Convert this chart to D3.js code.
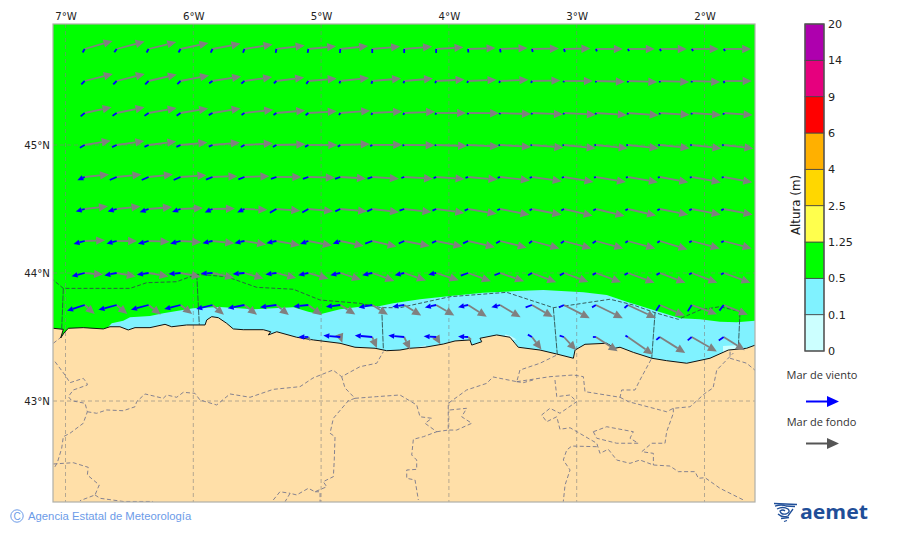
<!DOCTYPE html>
<html>
<head>
<meta charset="utf-8">
<script src="https://cdn.jsdelivr.net/npm/d3@7"></script>
<style>
    html, body { margin: 0; padding: 0; background: #fff; }
    text { font-family: "DejaVu Sans", sans-serif; }
</style>
</head>
<body>
<div id="chart"></div>
<script>

// Map ticks

var lonTicks = [ -7, -6, -5, -4, -3, -2 ];
var latTicks = [ 45, 44, 43 ];

// Arrow grid

var gridLons = [ -6.85, -6.6, -6.35, -6.1, -5.85, -5.6, -5.35, -5.1, -4.85, -4.6, -4.35, -4.1, -3.85, -3.6, -3.35, -3.1, -2.85, -2.6, -2.35, -2.1, -1.85 ];
var gridLats = [ 45.75, 45.5, 45.25, 45, 44.75, 44.5, 44.25, 44, 43.75, 43.5 ];

// Mar de fondo: heading in degrees from north, height in metres

var swellDir = [
    [ 74, 75, 76, 78, 79, 81, 83, 84.5, 84, 85, 85, 86.5, 88, 88, 89, 89, 90, 90, 90, 90, 90 ],
    [ 76, 76, 77, 79, 81, 82, 83, 85, 84, 85, 85, 87, 87.5, 87.5, 89, 90, 91.5, 92, 92, 92, 90 ],
    [ 78, 78.5, 80, 80.5, 81, 83.5, 85, 86.5, 85.5, 87, 87.5, 90, 90.5, 92, 92.5, 93, 93.5, 94, 93.5, 94, 94 ],
    [ 80.5, 82, 83, 84.5, 85, 86.5, 88.5, 90, 88, 89.5, 90.5, 92, 93, 93.7, 95, 96, 96, 96, 96, 96.5, 96.5 ],
    [ 84, 84, 84, 86, 88, 88, 90, 91.5, 93.5, 93.5, 93.5, 94, 95, 96.5, 98, 99.5, 99.5, 100, 100.5, 100.5, 100.5 ],
    [ 83.5, 84, 85, 87.5, 89, 92, 94, 95, 95, 97, 96.5, 98, 99.5, 101, 101, 103, 103.5, 103, 101.5, 101, 101 ],
    [ 88, 90, 92, 93.5, 96, 99, 100, 101, 102, 103, 101, 102, 103, 104, 105, 105, 105, 105, 107, 105, 105 ],
    [ 95, 100, 100, 101, 103, 106, 104, 106, 108, 110, 109, 108, 110, 109, 111, 110, 110, 110, 111, 111, 110 ],
    [ 132, 130, 128, 128, 130, 128, 129, 127, 122, 122, 122, 120, 122, 121, 120, 117, 116, 115, 113, 110, 112 ],
    [ null, null, null, null, null, null, null, 150, 160, 157, 155, 150, 130, null, 143, 137, 123, 125, 122, 120, 122 ]
];
var swellHeight = [
    [ 1.16, 1.16, 1.14, 1.14, 1.14, 1.14, 1.14, 1.12, 1.12, 1.12, 1.12, 1.10, 1.10, 1.10, 1.08, 1.06, 1.08, 1.08, 1.08, 1.08, 1.10 ],
    [ 1.16, 1.16, 1.16, 1.16, 1.16, 1.12, 1.12, 1.14, 1.16, 1.16, 1.16, 1.14, 1.14, 1.14, 1.14, 1.16, 1.16, 1.18, 1.18, 1.14, 1.12 ],
    [ 1.10, 1.14, 1.14, 1.12, 1.14, 1.16, 1.16, 1.14, 1.20, 1.20, 1.24, 1.20, 1.24, 1.24, 1.24, 1.28, 1.24, 1.24, 1.20, 1.18, 1.16 ],
    [ 1.06, 1.12, 1.12, 1.08, 1.10, 1.14, 1.16, 1.16, 1.18, 1.20, 1.22, 1.24, 1.24, 1.24, 1.26, 1.28, 1.28, 1.24, 1.20, 1.20, 1.20 ],
    [ 0.98, 1.00, 0.98, 1.04, 1.00, 1.00, 1.00, 1.06, 1.03, 1.07, 1.16, 1.14, 1.18, 1.20, 1.20, 1.20, 1.22, 1.22, 1.16, 1.18, 1.16 ],
    [ 0.94, 0.96, 0.94, 0.90, 0.90, 0.92, 0.96, 1.00, 1.08, 1.08, 1.10, 1.14, 1.16, 1.20, 1.20, 1.18, 1.18, 1.16, 1.16, 1.18, 1.18 ],
    [ 0.82, 0.82, 0.84, 0.83, 0.88, 0.88, 0.96, 0.96, 0.96, 1.00, 1.04, 1.08, 1.10, 1.10, 1.14, 1.14, 1.14, 1.14, 1.16, 1.16, 1.16 ],
    [ 0.74, 0.78, 0.81, 0.82, 0.89, 0.80, 0.82, 0.84, 0.87, 0.94, 0.92, 0.95, 0.97, 1.02, 1.04, 1.04, 1.07, 1.14, 1.10, 1.10, 1.14 ],
    [ 0.54, 0.56, 0.62, 0.59, 0.60, 0.64, 0.64, 0.68, 0.71, 0.74, 0.80, 0.84, 0.88, 0.96, 0.96, 1.16, 1.20, 1.24, 1.08, 1.08, 1.04 ],
    [ null, null, null, null, null, null, null, 0.16, 0.24, 0.48, 0.56, 0.34, 0.16, null, 0.63, 0.72, 1.04, 1.22, 1.20, 1.16, 1.00 ]
];

// Mar de viento: heading in degrees from north, height in metres

var windDir = [
    [ 210, 215, 210, 210, 205, 200, 190, 190, 185, 180, 180, 180, 175, 170, 165, 160, 155, 150, 150, 145, 145 ],
    [ 225, 225, 225, 225, 235, 230, 225, 215, 200, 195, 195, 205, 205, 205, 205, 200, 180, 180, 180, 180, 160 ],
    [ 230, 235, 235, 235, 240, 235, 235, 230, 210, 205, 205, 205, 200, 200, 195, 195, 190, 190, 190, 190, 185 ],
    [ 240, 245, 245, 245, 245, 240, 240, 240, 235, 240, 250, 250, 255, 255, 255, 255, 260, 260, 260, 260, 260 ],
    [ 246, 246, 246, 246, 248, 248, 250, 250, 250, 250, 250, 245, 250, 250, 250, 250, 250, 255, 255, 255, 255 ],
    [ 255, 255, 250, 250, 245, 245, 240, 240, 245, 245, 250, 245, 245, 245, 240, 240, 240, 240, 240, 240, 240 ],
    [ 255, 255, 255, 255, 257, 257, 257, 250, 250, 250, 245, 245, 245, 240, 230, 235, 235, 235, 235, 240, 240 ],
    [ 256, 259, 262, 265, 267, 265, 262, 257, 257, 257, 257, 258, 250, 248, 240, 240, 240, 240, 240, 240, 240 ],
    [ 252, 255, 255, 256, 256, 259, 262, 264, 263, 260, 262, 258, 257, 255, 250, 245, 238, 228, 213, 212, 217 ],
    [ null, null, null, null, null, null, null, 270, 275, 275, 275, 273, 273, null, 300, 287, 270, 300, 230, 230, 235 ]
];
var windHeight = [
    [ 0.16, 0.16, 0.16, 0.16, 0.16, 0.16, 0.16, 0.16, 0.16, 0.16, 0.16, 0.16, 0.14, 0.14, 0.12, 0.12, 0.10, 0.10, 0.10, 0.10, 0.10 ],
    [ 0.19, 0.19, 0.19, 0.18, 0.16, 0.16, 0.14, 0.14, 0.10, 0.11, 0.09, 0.09, 0.08, 0.08, 0.08, 0.06, 0.06, 0.06, 0.06, 0.06, 0.09 ],
    [ 0.21, 0.20, 0.20, 0.19, 0.17, 0.14, 0.14, 0.14, 0.10, 0.08, 0.08, 0.07, 0.06, 0.06, 0.06, 0.06, 0.06, 0.06, 0.06, 0.06, 0.07 ],
    [ 0.22, 0.20, 0.18, 0.18, 0.16, 0.16, 0.16, 0.15, 0.12, 0.09, 0.07, 0.06, 0.06, 0.06, 0.06, 0.06, 0.06, 0.06, 0.06, 0.06, 0.06 ],
    [ 0.32, 0.30, 0.30, 0.30, 0.28, 0.26, 0.23, 0.23, 0.22, 0.20, 0.12, 0.11, 0.11, 0.10, 0.10, 0.09, 0.08, 0.08, 0.08, 0.08, 0.08 ],
    [ 0.37, 0.37, 0.38, 0.36, 0.34, 0.32, 0.30, 0.28, 0.22, 0.22, 0.20, 0.16, 0.15, 0.12, 0.11, 0.12, 0.12, 0.11, 0.11, 0.11, 0.11 ],
    [ 0.46, 0.42, 0.44, 0.43, 0.41, 0.41, 0.41, 0.35, 0.32, 0.30, 0.24, 0.18, 0.22, 0.18, 0.15, 0.15, 0.16, 0.12, 0.12, 0.11, 0.11 ],
    [ 0.54, 0.50, 0.47, 0.48, 0.47, 0.47, 0.44, 0.41, 0.41, 0.41, 0.39, 0.32, 0.31, 0.24, 0.18, 0.19, 0.15, 0.15, 0.15, 0.12, 0.12 ],
    [ 0.74, 0.75, 0.73, 0.67, 0.67, 0.68, 0.66, 0.60, 0.58, 0.56, 0.48, 0.46, 0.41, 0.36, 0.27, 0.22, 0.18, 0.18, 0.27, 0.30, 0.28 ],
    [ null, null, null, null, null, null, null, 0.40, 0.68, 0.70, 0.64, 0.50, 0.40, null, 0.19, 0.18, 0.12, 0.11, 0.18, 0.21, 0.24 ]
];

// Colour bar

var barLevels = [ '0', '0.1', '0.5', '1.25', '2.5', '4', '6', '9', '14', '20' ];
var barColors = [ '#ccffff', '#80f2ff', '#00ff00', '#ffff4d', '#ffd700', '#ffb000', '#ff0000', '#e6007e', '#ae00ae' ];

// Coastline and the edge of the 0.1-0.5 m band, lon / lat

var coastLine = [
    [ -7.2, 43.568 ], [ -7.095, 43.568 ], [ -7.017, 43.560 ], [ -7.038, 43.492 ], [ -7.012, 43.531 ], [ -6.978, 43.568 ],
    [ -6.861, 43.573 ], [ -6.704, 43.563 ], [ -6.652, 43.580 ], [ -6.574, 43.580 ], [ -6.509, 43.555 ], [ -6.456, 43.573 ],
    [ -6.339, 43.573 ], [ -6.221, 43.599 ], [ -6.169, 43.580 ], [ -6.052, 43.594 ], [ -5.908, 43.594 ], [ -5.895, 43.633 ],
    [ -5.856, 43.659 ], [ -5.804, 43.651 ], [ -5.739, 43.607 ], [ -5.687, 43.563 ], [ -5.609, 43.557 ], [ -5.452, 43.557 ],
    [ -5.394, 43.541 ], [ -5.413, 43.516 ], [ -5.347, 43.541 ], [ -5.191, 43.498 ], [ -5.061, 43.477 ], [ -4.852, 43.451 ],
    [ -4.735, 43.420 ], [ -4.578, 43.412 ], [ -4.487, 43.393 ], [ -4.383, 43.398 ], [ -4.304, 43.412 ], [ -4.187, 43.420 ],
    [ -4.044, 43.445 ], [ -3.952, 43.469 ], [ -3.835, 43.477 ], [ -3.821, 43.437 ], [ -3.743, 43.463 ], [ -3.757, 43.490 ],
    [ -3.626, 43.516 ], [ -3.522, 43.498 ], [ -3.483, 43.451 ], [ -3.457, 43.420 ], [ -3.287, 43.398 ], [ -3.156, 43.367 ],
    [ -3.026, 43.334 ], [ -3.013, 43.398 ], [ -2.935, 43.443 ], [ -2.765, 43.451 ], [ -2.700, 43.412 ], [ -2.661, 43.420 ],
    [ -2.557, 43.380 ], [ -2.413, 43.334 ], [ -2.296, 43.315 ], [ -2.139, 43.295 ], [ -1.957, 43.334 ], [ -1.814, 43.398 ],
    [ -1.670, 43.412 ], [ -1.581, 43.445 ]
];
var bandEdge = [
    [ -6.665, 43.580 ], [ -6.638, 43.607 ], [ -6.548, 43.627 ], [ -6.495, 43.654 ], [ -6.339, 43.664 ], [ -6.235, 43.685 ],
    [ -6.130, 43.703 ], [ -6.000, 43.724 ], [ -5.791, 43.734 ], [ -5.530, 43.716 ], [ -5.217, 43.732 ], [ -5.100, 43.698 ],
    [ -5.008, 43.677 ], [ -4.852, 43.716 ], [ -4.696, 43.737 ], [ -4.539, 43.742 ], [ -4.435, 43.763 ], [ -4.226, 43.795 ],
    [ -3.991, 43.820 ], [ -3.731, 43.846 ], [ -3.469, 43.859 ], [ -3.261, 43.867 ], [ -2.948, 43.849 ], [ -2.765, 43.828 ],
    [ -2.609, 43.776 ], [ -2.400, 43.711 ], [ -2.191, 43.646 ], [ -2.035, 43.638 ], [ -1.879, 43.620 ], [ -1.748, 43.615 ],
    [ -1.581, 43.629 ]
];

// Small coastal patches under 0.1 m, lon / lat

var calmPatches = [
    [ [ -4.270, 43.415 ], [ -4.180, 43.435 ], [ -4.180, 43.390 ], [ -4.270, 43.390 ] ],
    [ [ -3.560, 43.520 ], [ -3.520, 43.510 ], [ -3.470, 43.480 ], [ -3.560, 43.470 ] ],
    [ [ -1.855, 43.430 ], [ -1.750, 43.435 ], [ -1.750, 43.380 ], [ -1.855, 43.380 ] ]
];

// Forecast zone limits at sea, lon / lat

var seaZones = [
    [ [ -7.160, 43.969 ], [ -7.095, 43.945 ], [ -7.017, 43.880 ], [ -6.495, 43.880 ], [ -6.365, 43.924 ], [ -6.130, 43.932 ], [ -5.973, 43.990 ],
      [ -5.739, 43.971 ], [ -5.504, 43.888 ], [ -5.217, 43.873 ], [ -5.008, 43.789 ], [ -4.696, 43.763 ], [ -4.526, 43.729 ], [ -4.383, 43.729 ],
      [ -3.991, 43.815 ], [ -3.548, 43.849 ], [ -3.183, 43.729 ], [ -2.739, 43.795 ], [ -2.557, 43.750 ], [ -2.387, 43.690 ], [ -2.205, 43.638 ],
      [ -2.035, 43.711 ], [ -1.879, 43.737 ], [ -1.722, 43.698 ] ],
    [ [ -7.017, 43.880 ], [ -7.030, 43.555 ] ],
    [ [ -5.973, 43.990 ], [ -5.953, 43.594 ] ],
    [ [ -4.526, 43.729 ], [ -4.513, 43.412 ] ],
    [ [ -3.183, 43.729 ], [ -3.152, 43.367 ] ],
    [ [ -2.387, 43.690 ], [ -2.413, 43.334 ] ],
    [ [ -1.722, 43.698 ], [ -1.735, 43.420 ] ]
];

// Provinces on land, lon / lat

var landBorders = [
    [ [ -7.095, 43.451 ], [ -7.043, 43.492 ] ],
    [ [ -7.082, 43.307 ], [ -7.004, 43.203 ], [ -6.965, 43.143 ], [ -6.861, 43.177 ], [ -6.834, 43.143 ], [ -6.829, 43.125 ], [ -6.939, 43.086 ],
      [ -6.978, 43.034 ], [ -6.951, 43.002 ], [ -6.847, 42.982 ], [ -6.829, 42.916 ], [ -6.861, 42.826 ], [ -6.965, 42.748 ], [ -7.017, 42.721 ],
      [ -7.030, 42.630 ], [ -7.064, 42.518 ], [ -7.090, 42.474 ] ],
    [ [ -7.095, 42.508 ], [ -6.939, 42.518 ], [ -6.822, 42.482 ], [ -6.829, 42.422 ], [ -6.736, 42.344 ], [ -6.769, 42.266 ], [ -6.887, 42.221 ] ],
    [ [ -6.769, 42.266 ], [ -6.730, 42.240 ], [ -6.548, 42.215 ], [ -6.315, 42.215 ] ],
    [ [ -6.829, 42.916 ], [ -6.756, 42.904 ], [ -6.678, 42.930 ], [ -6.548, 42.924 ], [ -6.456, 42.955 ], [ -6.443, 42.995 ], [ -6.378, 43.055 ],
      [ -6.235, 43.021 ], [ -6.208, 43.047 ], [ -6.130, 43.029 ], [ -6.078, 43.068 ], [ -5.987, 43.060 ], [ -5.948, 43.008 ], [ -5.817, 42.969 ],
      [ -5.713, 43.055 ], [ -5.556, 43.029 ], [ -5.374, 43.091 ], [ -5.165, 43.112 ], [ -5.063, 43.180 ], [ -4.907, 43.242 ], [ -4.839, 43.190 ],
      [ -4.696, 43.268 ], [ -4.565, 43.295 ], [ -4.513, 43.385 ] ],
    [ [ -4.839, 43.190 ], [ -4.813, 43.102 ], [ -4.735, 43.021 ], [ -4.787, 43.002 ], [ -4.904, 42.865 ], [ -4.930, 42.748 ], [ -4.891, 42.721 ],
      [ -4.897, 42.539 ], [ -4.904, 42.409 ], [ -4.983, 42.370 ], [ -4.956, 42.330 ], [ -5.048, 42.291 ], [ -5.100, 42.318 ], [ -5.191, 42.266 ],
      [ -5.243, 42.279 ], [ -5.282, 42.213 ] ],
    [ [ -5.374, 42.227 ], [ -5.322, 42.291 ], [ -5.243, 42.279 ] ],
    [ [ -5.048, 42.291 ], [ -5.008, 42.291 ], [ -5.008, 42.205 ] ],
    [ [ -4.735, 43.021 ], [ -4.565, 43.034 ], [ -4.383, 43.047 ], [ -4.252, 42.969 ], [ -4.226, 42.877 ], [ -4.134, 42.865 ], [ -4.187, 42.826 ],
      [ -4.095, 42.760 ], [ -4.200, 42.721 ], [ -4.278, 42.701 ], [ -4.291, 42.578 ], [ -4.252, 42.539 ], [ -4.252, 42.466 ], [ -4.330, 42.461 ],
      [ -4.330, 42.396 ], [ -4.265, 42.383 ], [ -4.239, 42.227 ] ],
    [ [ -4.095, 42.760 ], [ -4.005, 42.773 ], [ -4.005, 42.838 ], [ -4.005, 42.982 ], [ -3.861, 43.086 ], [ -3.704, 43.138 ], [ -3.655, 43.188 ],
      [ -3.469, 43.151 ], [ -3.444, 43.242 ], [ -3.287, 43.295 ], [ -3.156, 43.359 ] ],
    [ [ -3.469, 43.151 ], [ -3.209, 43.190 ], [ -3.026, 43.203 ], [ -2.948, 43.190 ], [ -2.935, 43.073 ], [ -2.661, 43.029 ], [ -2.648, 43.086 ],
      [ -2.544, 43.086 ], [ -2.505, 43.164 ], [ -2.413, 43.334 ] ],
    [ [ -3.469, 43.151 ], [ -3.418, 43.143 ], [ -3.342, 43.164 ] ],
    [ [ -3.170, 43.164 ], [ -3.156, 43.034 ], [ -3.052, 43.047 ], [ -3.000, 42.995 ], [ -3.131, 42.904 ], [ -3.209, 42.943 ], [ -3.274, 42.891 ],
      [ -3.235, 42.838 ], [ -3.156, 42.877 ], [ -3.131, 42.779 ], [ -3.052, 42.791 ], [ -2.843, 42.670 ], [ -2.818, 42.591 ], [ -2.753, 42.623 ],
      [ -2.687, 42.539 ], [ -2.583, 42.513 ], [ -2.505, 42.539 ], [ -2.400, 42.500 ], [ -2.270, 42.492 ], [ -2.205, 42.448 ], [ -2.074, 42.448 ],
      [ -2.048, 42.396 ], [ -1.996, 42.401 ], [ -1.879, 42.318 ], [ -1.696, 42.227 ] ],
    [ [ -2.843, 42.643 ], [ -3.039, 42.648 ], [ -3.078, 42.617 ], [ -3.105, 42.539 ], [ -3.052, 42.461 ], [ -3.091, 42.344 ], [ -3.105, 42.213 ] ],
    [ [ -2.870, 42.760 ], [ -2.765, 42.799 ], [ -2.557, 42.760 ], [ -2.583, 42.709 ], [ -2.518, 42.670 ], [ -2.687, 42.670 ], [ -2.843, 42.709 ], [ -2.870, 42.760 ] ],
    [ [ -2.661, 43.029 ], [ -2.596, 42.995 ], [ -2.296, 42.916 ], [ -2.244, 42.943 ], [ -2.113, 42.955 ], [ -1.996, 43.060 ], [ -1.933, 43.102 ], [ -1.904, 43.242 ], [ -1.774, 43.375 ] ],
    [ [ -2.244, 42.943 ], [ -2.244, 42.904 ], [ -2.296, 42.760 ], [ -2.309, 42.670 ], [ -2.413, 42.670 ], [ -2.491, 42.604 ], [ -2.400, 42.591 ], [ -2.400, 42.500 ] ],
    [ [ -3.991, 42.930 ], [ -3.861, 42.943 ], [ -3.900, 42.877 ], [ -3.821, 42.826 ], [ -3.939, 42.773 ], [ -4.005, 42.773 ] ],
    [ [ -1.800, 43.385 ], [ -1.800, 43.334 ], [ -1.670, 43.295 ], [ -1.589, 43.227 ] ]
];

var width = 900;
var height = 533;

var svg = d3.select( '#chart' ).append( 'svg' )
    .attr( 'width', width )
    .attr( 'height', height )
    .style( 'display', 'block' );

// Map scales

var frame = { left: 53, right: 755, top: 24, bottom: 502 };

var x = d3.scaleLinear().domain( [ -7, -2 ] ).range( [ 65.5, 704.5 ] );
var y = d3.scaleLinear().domain( [ 45, 43 ] ).range( [ 145, 401 ] );

var arrowLength = d3.scaleLinear().domain( [ 0, 1 ] ).range( [ 0, 25 ] );

var line = d3.line()
    .x( function ( d ) { return x( d[0] ); } )
    .y( function ( d ) { return y( d[1] ); } );

svg.append( 'clipPath' )
    .attr( 'id', 'frame-clip' )
    .append( 'rect' )
    .attr( 'x', frame.left )
    .attr( 'y', frame.top )
    .attr( 'width', frame.right - frame.left )
    .attr( 'height', frame.bottom - frame.top );

var map = svg.append( 'g' ).attr( 'clip-path', 'url(#frame-clip)' );

// Sea and land areas

var mapBottom = y.invert( frame.bottom + 5 );

map.append( 'rect' )
    .attr( 'x', frame.left )
    .attr( 'y', frame.top )
    .attr( 'width', frame.right - frame.left )
    .attr( 'height', frame.bottom - frame.top )
    .attr( 'fill', '#00ff00' );

map.append( 'path' )
    .attr( 'd', line( bandEdge.concat( [ [ bandEdge[ bandEdge.length - 1 ][0], mapBottom ], [ bandEdge[0][0], mapBottom ] ] ) ) + 'Z' )
    .attr( 'fill', barColors[1] );

map.selectAll( '.calm' ).data( calmPatches ).enter().append( 'path' )
    .attr( 'd', function ( d ) { return line( d ) + 'Z'; } )
    .attr( 'fill', barColors[0] );

map.append( 'path' )
    .attr( 'd', line( coastLine.concat( [ [ coastLine[ coastLine.length - 1 ][0], mapBottom ], [ coastLine[0][0], mapBottom ] ] ) ) + 'Z' )
    .attr( 'fill', '#ffdfa8' );

// Graticule

map.selectAll( '.grid-lon' ).data( lonTicks ).enter().append( 'line' )
    .attr( 'x1', x )
    .attr( 'x2', x )
    .attr( 'y1', frame.top )
    .attr( 'y2', frame.bottom );

map.selectAll( '.grid-lat' ).data( latTicks ).enter().append( 'line' )
    .attr( 'y1', y )
    .attr( 'y2', y )
    .attr( 'x1', frame.left )
    .attr( 'x2', frame.right );

map.selectAll( 'line' )
    .attr( 'stroke', '#808080' )
    .attr( 'stroke-opacity', 0.65 )
    .attr( 'stroke-width', 0.9 )
    .attr( 'stroke-dasharray', '4 3' );

// Coast and limits

map.append( 'path' )
    .attr( 'd', line( coastLine ) )
    .attr( 'fill', 'none' )
    .attr( 'stroke', '#111' )
    .attr( 'stroke-width', 1 );

map.selectAll( '.land-border' ).data( landBorders ).enter().append( 'path' )
    .attr( 'd', line )
    .attr( 'fill', 'none' )
    .attr( 'stroke', '#77778c' )
    .attr( 'stroke-width', 0.9 )
    .attr( 'stroke-dasharray', '4 2.5' );

map.selectAll( '.sea-zone' ).data( seaZones ).enter().append( 'path' )
    .attr( 'd', line )
    .attr( 'fill', 'none' )
    .attr( 'stroke', '#2e4d4d' )
    .attr( 'stroke-width', 0.9 )
    .attr( 'stroke-dasharray', function ( d ) { return d.length > 2 ? '4 2' : '6 1'; } );

// Arrows

function arrowCells ( dirs, heights ) {

    var cells = [];

    gridLats.forEach( function ( lat, row ) {

        gridLons.forEach( function ( lon, col ) {

            if ( dirs[ row ][ col ] === null ) return;

            cells.push( { lon: lon, lat: lat, dir: dirs[ row ][ col ], h: heights[ row ][ col ] } );

        });

    });

    return cells;

}

function drawArrows ( cells, color, headLength, headWidth, minLength ) {

    var group = map.append( 'g' );

    cells.forEach( function ( d ) {

        var len = arrowLength( d.h );
        var rad = d.dir * Math.PI / 180;
        var ux = Math.sin( rad );
        var uy = - Math.cos( rad );
        var x0 = x( d.lon );
        var y0 = y( d.lat );
        var hasHead = len >= minLength;
        var neck = hasHead ? len - headLength : len;

        group.append( 'line' )
            .attr( 'x1', x0 )
            .attr( 'y1', y0 )
            .attr( 'x2', x0 + ux * neck )
            .attr( 'y2', y0 + uy * neck )
            .attr( 'stroke', color )
            .attr( 'stroke-width', 1.8 );

        if ( ! hasHead ) return;

        var tipX = x0 + ux * len;
        var tipY = y0 + uy * len;
        var baseX = x0 + ux * neck;
        var baseY = y0 + uy * neck;

        group.append( 'polygon' )
            .attr( 'points', [
                [ tipX, tipY ],
                [ baseX - uy * headWidth, baseY + ux * headWidth ],
                [ baseX + uy * headWidth, baseY - ux * headWidth ]
            ].join( ' ' ) )
            .attr( 'fill', color );

    });

}

drawArrows( arrowCells( swellDir, swellHeight ), '#808080', 9, 4.2, 5 );
drawArrows( arrowCells( windDir, windHeight ), '#0000ff', 6, 2.7, 8 );

// Map frame

svg.append( 'rect' )
    .attr( 'x', frame.left )
    .attr( 'y', frame.top )
    .attr( 'width', frame.right - frame.left )
    .attr( 'height', frame.bottom - frame.top )
    .attr( 'fill', 'none' )
    .attr( 'stroke', '#b0b0a8' )
    .attr( 'stroke-width', 1.2 );

// Map axes

var topAxis = svg.append( 'g' )
    .attr( 'transform', 'translate(0,' + ( frame.top - 4 ) + ')' )
    .call( d3.axisTop( x ).tickValues( lonTicks ).tickSize( 0 ).tickPadding( 0 )
        .tickFormat( function ( d ) { return Math.abs( d ) + '°W'; } ) );

var leftAxis = svg.append( 'g' )
    .attr( 'transform', 'translate(' + ( frame.left - 3 ) + ',0)' )
    .call( d3.axisLeft( y ).tickValues( latTicks ).tickSize( 0 ).tickPadding( 0 )
        .tickFormat( function ( d ) { return d + '°N'; } ) );

[ topAxis, leftAxis ].forEach( function ( axis ) {

    axis.select( '.domain' ).remove();
    axis.selectAll( 'text' )
        .style( 'font-family', '"DejaVu Sans", sans-serif' )
        .style( 'font-size', '10.2px' )
        .attr( 'fill', '#222' );

});

// Colour bar

var barY = d3.scalePoint().domain( barLevels ).range( [ 351, 24 ] );
var barLeft = 805;
var barWidth = 19;

svg.append( 'g' ).selectAll( 'rect' ).data( barColors ).enter().append( 'rect' )
    .attr( 'x', barLeft )
    .attr( 'width', barWidth )
    .attr( 'y', function ( d, i ) { return barY( barLevels[ i + 1 ] ); } )
    .attr( 'height', function ( d, i ) { return barY( barLevels[ i ] ) - barY( barLevels[ i + 1 ] ); } )
    .attr( 'fill', function ( d ) { return d; } )
    .attr( 'stroke', '#444' )
    .attr( 'stroke-width', 0.8 );

svg.append( 'rect' )
    .attr( 'x', barLeft )
    .attr( 'y', barY( '20' ) )
    .attr( 'width', barWidth )
    .attr( 'height', barY( '0' ) - barY( '20' ) )
    .attr( 'fill', 'none' )
    .attr( 'stroke', '#555' )
    .attr( 'stroke-width', 1.3 );

var barAxis = svg.append( 'g' )
    .attr( 'transform', 'translate(' + ( barLeft + barWidth ) + ',0)' )
    .call( d3.axisRight( barY ).tickSize( 0 ).tickPadding( 4 ) );

barAxis.select( '.domain' ).remove();
barAxis.selectAll( 'text' )
    .style( 'font-family', '"DejaVu Sans", sans-serif' )
    .style( 'font-size', '11.2px' )
    .attr( 'fill', '#222' );

svg.append( 'text' )
    .attr( 'transform', 'translate(800,205) rotate(-90)' )
    .attr( 'text-anchor', 'middle' )
    .style( 'font-size', '11.8px' )
    .attr( 'fill', '#222' )
    .text( 'Altura (m)' );

// Arrow legend

function legendArrow ( yPos, color ) {

    svg.append( 'line' )
        .attr( 'x1', 806 )
        .attr( 'x2', 829 )
        .attr( 'y1', yPos )
        .attr( 'y2', yPos )
        .attr( 'stroke', color )
        .attr( 'stroke-width', 2 );

    svg.append( 'polygon' )
        .attr( 'points', '839,' + yPos + ' 827,' + ( yPos - 5.5 ) + ' 827,' + ( yPos + 5.5 ) )
        .attr( 'fill', color );

}

svg.append( 'text' )
    .attr( 'x', 822 )
    .attr( 'y', 379 )
    .attr( 'text-anchor', 'middle' )
    .style( 'font-family', '"Open Sans", sans-serif' )
    .style( 'font-size', '11px' )
    .attr( 'fill', '#333' )
    .text( 'Mar de viento' );

svg.append( 'text' )
    .attr( 'x', 821.5 )
    .attr( 'y', 426 )
    .attr( 'text-anchor', 'middle' )
    .style( 'font-family', '"Open Sans", sans-serif' )
    .style( 'font-size', '11px' )
    .attr( 'fill', '#333' )
    .text( 'Mar de fondo' );

legendArrow( 401.5, '#0000ff' );
legendArrow( 443.5, '#555555' );

// Footer

svg.append( 'circle' )
    .attr( 'cx', 17 )
    .attr( 'cy', 516 )
    .attr( 'r', 6.2 )
    .attr( 'fill', 'none' )
    .attr( 'stroke', '#6c9be8' )
    .attr( 'stroke-width', 1 );

svg.append( 'text' )
    .attr( 'x', 17 )
    .attr( 'y', 519.5 )
    .attr( 'text-anchor', 'middle' )
    .style( 'font-family', '"Liberation Sans", sans-serif' )
    .style( 'font-size', '10px' )
    .attr( 'fill', '#6c9be8' )
    .text( 'C' );

svg.append( 'text' )
    .attr( 'x', 28 )
    .attr( 'y', 520 )
    .style( 'font-family', '"Liberation Sans", sans-serif' )
    .style( 'font-size', '11.3px' )
    .attr( 'fill', '#6c9be8' )
    .text( 'Agencia Estatal de Meteorología' );

// Aemet logo

var logo = svg.append( 'g' ).attr( 'fill', 'none' ).attr( 'stroke', '#1f4e98' );

[ 'M774,503.5 L797,504.5',
  'M775,506 Q782,504 786,506 L795,506.5',
  'M777,509 Q783,506 788,509 Q791,512 786,514 Q781,515 780,511 Q783,509 785,511',
  'M778,514 Q782,518 788,516 L793,509',
  'M781,518.5 L789,517.5',
  'M784,521.5 L787,520.5' ].forEach( function ( d ) {

    logo.append( 'path' )
        .attr( 'd', d )
        .attr( 'stroke-width', 1.3 );

});

svg.append( 'text' )
    .attr( 'x', 800 )
    .attr( 'y', 519 )
    .attr( 'textLength', 68 )
    .attr( 'lengthAdjust', 'spacingAndGlyphs' )
    .style( 'font-family', '"Open Sans", sans-serif' )
    .style( 'font-weight', 700 )
    .style( 'font-size', '20px' )
    .attr( 'fill', '#1f4e98' )
    .text( 'aemet' );

</script>
</body>
</html>
